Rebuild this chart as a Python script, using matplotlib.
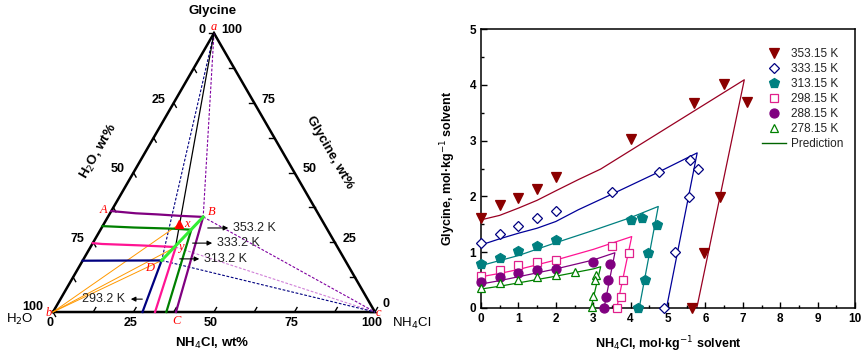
import numpy as np
import matplotlib.pyplot as plt
from matplotlib.lines import Line2D
from matplotlib.ticker import MultipleLocator

plt.rcParams['font.family'] = ['Liberation Sans', 'DejaVu Sans']

# ---------------- ternary diagram data (NH4Cl wt%, glycine wt%) ----------------
iso353_n = [0, 3, 8, 15, 22, 29.6, 38.2]
iso353_g = [36.2, 35.9, 35.4, 35.0, 34.5, 34.1, 0]
iso333_n = [0, 10, 22, 28.2, 35.2]
iso333_g = [30.8, 30.3, 29.9, 29.5, 0]
iso313_n = [0, 3, 15, 26.5, 31.7]
iso313_g = [24.7, 24.4, 23.9, 23.3, 0]
iso293_n = [0, 24.5, 27.8]
iso293_g = [18.4, 18.5, 0]

pt_a = (0, 100)
pt_b = (0, 0)
pt_c = (100, 0)
pt_B = (29.6, 34.1)
pt_D = (24.5, 18.5)
pt_x = (23.4, 31.4)
pt_y = (26.4, 23.3)

# ---------------- phase diagram in molality ----------------
x353 = [0, 0.5, 1, 1.5, 2, 4.0, 5.7, 6.5, 7.1, 6.4, 5.95, 5.63]
y353 = [1.62, 1.85, 1.97, 2.14, 2.35, 3.02, 3.68, 4.01, 3.69, 1.99, 0.99, 0]
x333 = [0, 0.5, 1, 1.5, 2, 3.5, 4.75, 5.6, 5.8, 5.55, 5.2, 4.9]
y333 = [1.17, 1.33, 1.47, 1.61, 1.73, 2.08, 2.44, 2.66, 2.50, 1.99, 1.0, 0]
x313 = [0, 0.5, 1, 1.5, 2, 4.0, 4.3, 4.7, 4.47, 4.38, 4.2]
y313 = [0.78, 0.90, 1.02, 1.11, 1.21, 1.58, 1.61, 1.49, 0.99, 0.50, 0]
x298 = [0, 0.5, 1, 1.5, 2, 3.5, 3.95, 3.8, 3.75, 3.63]
y298 = [0.57, 0.68, 0.77, 0.83, 0.86, 1.11, 0.99, 0.50, 0.20, 0]
x288 = [0, 0.5, 1, 1.5, 2, 3.0, 3.45, 3.4, 3.35, 3.28]
y288 = [0.46, 0.55, 0.62, 0.68, 0.70, 0.83, 0.78, 0.50, 0.20, 0]
x278 = [0, 0.5, 1, 1.5, 2, 2.5, 3.07, 3.05, 3.0, 2.96]
y278 = [0.36, 0.44, 0.50, 0.56, 0.60, 0.65, 0.59, 0.50, 0.21, 0.02]

p353_x = [0, 0.5, 1, 1.5, 2, 2.6, 3.2, 7.04, 5.77]
p353_y = [1.58, 1.66, 1.79, 1.93, 2.10, 2.30, 2.49, 4.09, 0]
p333_x = [0, 0.5, 1, 1.5, 2, 2.6, 3.5, 4.76, 5.78, 4.96]
p333_y = [1.13, 1.24, 1.34, 1.43, 1.55, 1.76, 2.04, 2.44, 2.78, 0]
p313_x = [0, 0.5, 1, 2, 3, 4, 4.74, 4.23]
p313_y = [0.76, 0.85, 0.94, 1.17, 1.39, 1.62, 1.82, 0]
p298_x = [0, 0.5, 1, 2, 3, 4.03, 3.63]
p298_y = [0.56, 0.62, 0.69, 0.86, 1.05, 1.28, 0]
p288_x = [0, 0.5, 1, 2, 3, 3.58, 3.29]
p288_y = [0.43, 0.49, 0.56, 0.70, 0.86, 0.99, 0]
p278_x = [0, 0.5, 1, 2, 3, 3.2, 2.94]
p278_y = [0.34, 0.39, 0.45, 0.57, 0.70, 0.74, 0]


def tern(n, g):
    n = np.asarray(n, dtype=float)
    g = np.asarray(g, dtype=float)
    return n + g / 2, g * np.sqrt(3) / 2


fig = plt.figure(figsize=(8.64, 3.55), dpi=100)

# ================= left: ternary =================
ax1 = fig.add_axes([0, 0, 440 / 864, 1])
ax1.set_xlim(-16.46, 120.2)
ax1.set_ylim(-13.35, 96.9)
ax1.axis('off')

# frame
tx, ty = tern([0, 100, 0, 0], [0, 0, 100, 0])
ax1.plot(tx, ty, color='k', lw=1.8, solid_joinstyle='miter')

# ticks every 12.5
tl = 1.6
h = np.sqrt(3) / 2
for v in np.arange(0, 100.1, 12.5):
    x0, y0 = tern(v, 0)
    ax1.plot([x0, x0 + tl * 0.5], [y0, y0 + tl * h], color='k', lw=1.0)
    x0, y0 = tern(100 - v, v)
    ax1.plot([x0, x0 - tl], [y0, y0], color='k', lw=1.0)
    x0, y0 = tern(0, 100 - v)
    ax1.plot([x0, x0 + tl * 0.5], [y0, y0 - tl * h], color='k', lw=1.0)

tk = dict(fontsize=9, fontweight='bold')
for v in [0, 25, 50, 75, 100]:
    x0, y0 = tern(v, 0)
    ax1.text(x0 - 1, -3.4, str(v), ha='center', va='center', **tk)
    x0, y0 = tern(100 - v, v)
    dy = 2.4 if v == 0 else 1.0
    ax1.text(x0 + 2.4, y0 + dy, str(v), ha='left', va='center', **tk)
    x0, y0 = tern(0, 100 - v)
    dx = -3.0 if v == 100 else -2.6
    dy = 1.6 if v == 100 else 1.0
    ax1.text(x0 + dx, y0 + dy, str(v), ha='right', va='center', **tk)

ax1.text(49.7, 93.4, 'Glycine', ha='center', va='center', fontsize=9.5, fontweight='bold')
ax1.text(14.4, 49.8, 'H$_2$O, wt%', ha='center', va='center', rotation=60,
         fontsize=9.5, fontweight='bold')
ax1.text(85.9, 49.4, 'Glycine, wt%', ha='center', va='center', rotation=-60,
         fontsize=9.5, fontweight='bold')
ax1.text(49.4, -9.8, 'NH$_4$Cl, wt%', ha='center', va='center', fontsize=9.5, fontweight='bold')
ax1.text(-6.0, -2.2, 'H$_2$O', ha='right', va='center', fontsize=9.5)
ax1.text(105.3, -3.4, 'NH$_4$Cl', ha='left', va='center', fontsize=9.5)

# dashed construction lines
dash = (0, (2.5, 1.5))
for p, q, col in [(pt_a, pt_D, '#000080'), (pt_a, pt_B, '#8000a0'),
                  (pt_B, pt_c, '#8000a0'), (pt_y, pt_c, '#d080d8'),
                  (pt_D, pt_c, '#000080')]:
    xs, ys = tern([p[0], q[0]], [p[1], q[1]])
    ax1.plot(xs, ys, color=col, lw=0.8, ls=dash)

# orange tie lines from water corner
for q in [pt_x, pt_y, pt_D]:
    xs, ys = tern([0, q[0]], [0, q[1]])
    ax1.plot(xs, ys, color='#ff9900', lw=0.7)

# black line glycine corner -> y
xs, ys = tern([pt_a[0], pt_y[0]], [pt_a[1], pt_y[1]])
ax1.plot(xs, ys, color='k', lw=0.9)

# isotherms
for n, g, col in [(iso353_n, iso353_g, '#800080'), (iso333_n, iso333_g, '#008000'),
                  (iso313_n, iso313_g, '#ff1493'), (iso293_n, iso293_g, '#000080')]:
    xs, ys = tern(n, g)
    ax1.plot(xs, ys, color=col, lw=1.6)

# invariant line
xs, ys = tern([pt_B[0], pt_D[0]], [pt_B[1], pt_D[1]])
ax1.plot(xs, ys, color='#33ee33', lw=2.2)

xs, ys = tern(pt_x[0], pt_x[1])
ax1.plot(xs, ys, marker='^', color='red', ms=6)

lab = dict(color='red', fontsize=9, style='italic', family='Liberation Serif',
           ha='center', va='center')
ax1.text(50.0, 88.6, 'a', **lab)
ax1.text(15.6, 31.8, 'A', **lab)
ax1.text(49.3, 31.2, 'B', **lab)
ax1.text(38.5, -2.8, 'C', **lab)
ax1.text(30.1, 13.8, 'D', **lab)
ax1.text(-1.4, -0.2, 'b', **lab)
ax1.text(101.0, -0.2, 'c', **lab)
ax1.text(41.6, 27.3, 'x', **lab)
ax1.text(39.8, 20.3, 'y', **lab)

arr = dict(arrowstyle='-|>', color='k', lw=0.8, mutation_scale=7)
for s, e, txt, ha in [((47.2, 26.1), (55.3, 26.1), '353.2 K', 'left'),
                      ((42.5, 21.4), (50.3, 21.4), '333.2 K', 'left'),
                      ((38.5, 16.5), (46.3, 16.5), '313.2 K', 'left'),
                      ((28.6, 4.0), (23.3, 4.0), '293.2 K', 'right')]:
    ax1.annotate('', xy=e, xytext=s, arrowprops=arr)
    dx = 0.6 if ha == 'left' else -0.8
    ax1.text(e[0] + dx, e[1], txt, ha=ha, va='center', fontsize=9, color='#222222')

# ================= right: molality diagram =================
ax2 = fig.add_axes([481 / 864, 47 / 355, 374 / 864, 279 / 355])

pred = [(p353_x, p353_y, '#990022'), (p333_x, p333_y, '#000099'),
        (p313_x, p313_y, '#008080'), (p298_x, p298_y, '#ff1493'),
        (p288_x, p288_y, '#800080'), (p278_x, p278_y, '#008000')]
for px, py, col in pred:
    ax2.plot(px, py, color=col, lw=0.9)

exp = [(x353, y353, 'v', '#8b0000', '#8b0000', 7, '353.15 K'),
       (x333, y333, 'D', 'white', '#000080', 5, '333.15 K'),
       (x313, y313, 'p', '#008080', '#008080', 7.5, '313.15 K'),
       (x298, y298, 's', 'white', '#e0208c', 5.5, '298.15 K'),
       (x288, y288, 'o', '#800080', '#800080', 6.5, '288.15 K'),
       (x278, y278, '^', 'white', '#008000', 6, '278.15 K')]
handles = []
for x, y, m, fc, ec, ms, name in exp:
    hd, = ax2.plot(x, y, ls='none', marker=m, mfc=fc, mec=ec, ms=ms, mew=0.9,
                   clip_on=False, zorder=3, label=name)
    handles.append(hd)
handles.append(Line2D([], [], color='#006400', lw=1.0, label='Prediction'))

ax2.legend(handles=handles, loc='upper left', bbox_to_anchor=(0.73, 0.96),
           frameon=False, fontsize=8.5, handlelength=2.0, handletextpad=0.4,
           labelspacing=0.25, borderpad=0.2, labelcolor='#222222')

ax2.set_xlim(0, 10)
ax2.set_ylim(0, 5)
ax2.set_xticks(range(11))
ax2.set_yticks(range(6))
ax2.xaxis.set_minor_locator(MultipleLocator(0.5))
ax2.yaxis.set_minor_locator(MultipleLocator(0.5))
ax2.tick_params(which='both', direction='in', top=False, right=False, width=1.0, labelsize=8.5)
ax2.tick_params(which='major', length=4)
ax2.tick_params(which='minor', length=2.5)
plt.setp(ax2.get_xticklabels() + ax2.get_yticklabels(), fontweight='bold')
for sp in ax2.spines.values():
    sp.set_linewidth(1.1)
ax2.set_xlabel('NH$_4$Cl, mol·kg$^{-1}$ solvent', fontsize=9, fontweight='bold', labelpad=7)
ax2.set_ylabel('Glycine, mol·kg$^{-1}$ solvent', fontsize=9, fontweight='bold', labelpad=8)

fig.savefig('out.png', dpi=100)
